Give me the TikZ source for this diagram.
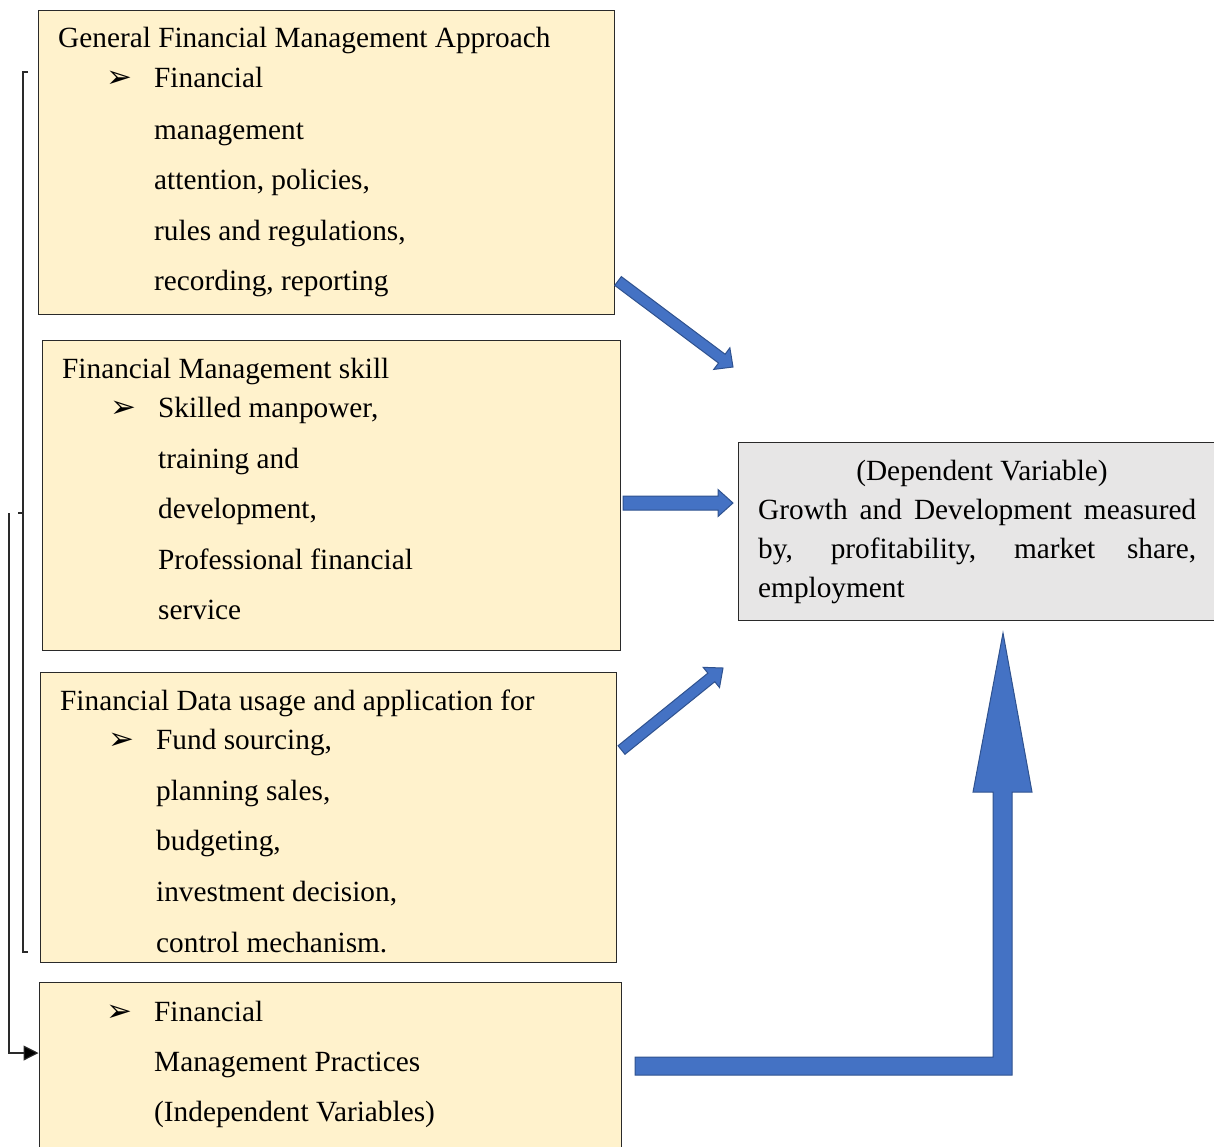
\documentclass[tikz,border=0pt]{standalone}
\usepackage{fontspec}
\setmainfont{Liberation Serif}
\newfontfamily\symfont{DejaVu Sans}
\usetikzlibrary{calc,arrows.meta}
\definecolor{boxyellow}{HTML}{FFF2CC}
\definecolor{boxgray}{HTML}{E7E6E6}
\definecolor{arrowblue}{HTML}{4472C4}
\definecolor{arrowedge}{HTML}{2F528F}
\definecolor{linegray}{HTML}{2A2A2A}
\newcommand\blkarrow[5]{%
  \coordinate (hb) at ($(#2)!#5!(#1)$);
  \draw[blockarrow] ($(#1)!#3!90:(#2)$) -- ($(hb)!#3!-90:(#1)$) -- ($(hb)!#4!-90:(#1)$) -- (#2)
    -- ($(hb)!#4!90:(#1)$) -- ($(hb)!#3!90:(#1)$) -- ($(#1)!#3!-90:(#2)$) -- cycle;}
\begin{document}
\begin{tikzpicture}[x=1pt,y=-1pt,
  ybox/.style={draw=linegray, line width=1pt, fill=boxyellow, inner sep=0pt},
  gbox/.style={draw=linegray, line width=1pt, fill=boxgray, inner sep=0pt},
  txt/.style={anchor=base west, inner sep=0pt, font=\fontsize{29.3}{35}\selectfont},
  ctxt/.style={anchor=base, inner sep=0pt, font=\fontsize{29.3}{35}\selectfont},
  bul/.style={anchor=base west, inner sep=0pt, font=\symfont\fontsize{31}{36}\selectfont},
  blockarrow/.style={fill=arrowblue, draw=arrowedge, line width=1pt, line join=miter},
  brk/.style={draw=linegray, line width=1.3pt}]
\useasboundingbox (0,0) rectangle (1214,1146);
\clip (0,0) rectangle (1214,1146);

% boxes
\node[ybox, minimum width=576pt, minimum height=304pt] (b1) at (326,162) {};
\node[ybox, minimum width=578pt, minimum height=310pt] (b2) at (331,495) {};
\node[ybox, minimum width=576pt, minimum height=290pt] (b3) at (328,817) {};
\node[ybox, minimum width=582pt, minimum height=188pt] (b4) at (330,1076) {};
\node[gbox, minimum width=486pt, minimum height=178pt] (b5) at (981,531) {};

% box 1 text
\node[txt] (t10) at (58,47) {General Financial Management Approach};
\node[bul] (p1) at (106,87) {➢};
\node[txt] (t11) at (154,87) {Financial};
\node[txt] (t12) at (154,139) {management};
\node[txt] (t13) at (154,189) {attention, policies,};
\node[txt] (t14) at (154,240) {rules and regulations,};
\node[txt] (t15) at (154,290) {recording, reporting};

% box 2 text
\node[txt] (t20) at (62,378) {Financial Management skill};
\node[bul] (p2) at (110,417) {➢};
\node[txt] (t21) at (158,417) {Skilled manpower,};
\node[txt] (t22) at (158,468) {training and};
\node[txt] (t23) at (158,518) {development,};
\node[txt] (t24) at (158,569) {Professional financial};
\node[txt] (t25) at (158,619) {service};

% box 3 text
\node[txt] (t30) at (60,710) {Financial Data usage and application for};
\node[bul] (p3) at (108,749) {➢};
\node[txt] (t31) at (156,749) {Fund sourcing,};
\node[txt] (t32) at (156,800) {planning sales,};
\node[txt] (t33) at (156,850) {budgeting,};
\node[txt] (t34) at (156,901) {investment decision,};
\node[txt] (t35) at (156,952) {control mechanism.};

% box 4 text
\node[bul] (p4) at (106,1021) {➢};
\node[txt] (t41) at (154,1021) {Financial};
\node[txt] (t42) at (154,1071) {Management Practices};
\node[txt] (t43) at (154,1121) {(Independent Variables)};

% box 5 text
\node[ctxt] (t50) at (982,480) {(Dependent Variable)};
\node[txt] (t51) at (758,519) {\makebox[438pt][s]{Growth and Development measured}};
\node[txt] (t52) at (758,558) {\makebox[438pt][s]{by, profitability, market share,}};
\node[txt] (t53) at (758,597) {employment};

% block arrows
\coordinate (a1t) at (618,281); \coordinate (a1h) at (733,367);
\coordinate (a2t) at (623,503); \coordinate (a2h) at (733,503);
\coordinate (a3t) at (621.5,750); \coordinate (a3h) at (723,668);
\blkarrow{a1t}{a1h}{5.5pt}{13.5pt}{14pt}
\blkarrow{a2t}{a2h}{7pt}{13.5pt}{15pt}
\blkarrow{a3t}{a3h}{5.5pt}{13pt}{15pt}
\draw[blockarrow] (635,1057) -- (993,1057) -- (993,792) -- (973,792) -- (1003,633)
  -- (1032,792) -- (1012,792) -- (1012,1075) -- (635,1075) -- cycle;

% left brackets
\coordinate (k1) at (28,72);
\coordinate (k2) at (28,952);
\coordinate (k3) at (18,513);
\coordinate (k4) at (9,513);
\coordinate (k5) at (0,1053);
\draw[brk] (k1) -- (23,72) -- (23,952) -- (k2);
\draw[brk] (k3) -- (23,513);
\draw[brk, line width=1.1pt, -{Triangle[length=15pt,width=15pt,fill=black]}] (k4) |- (b4.west |- k5);
\end{tikzpicture}
\end{document}
